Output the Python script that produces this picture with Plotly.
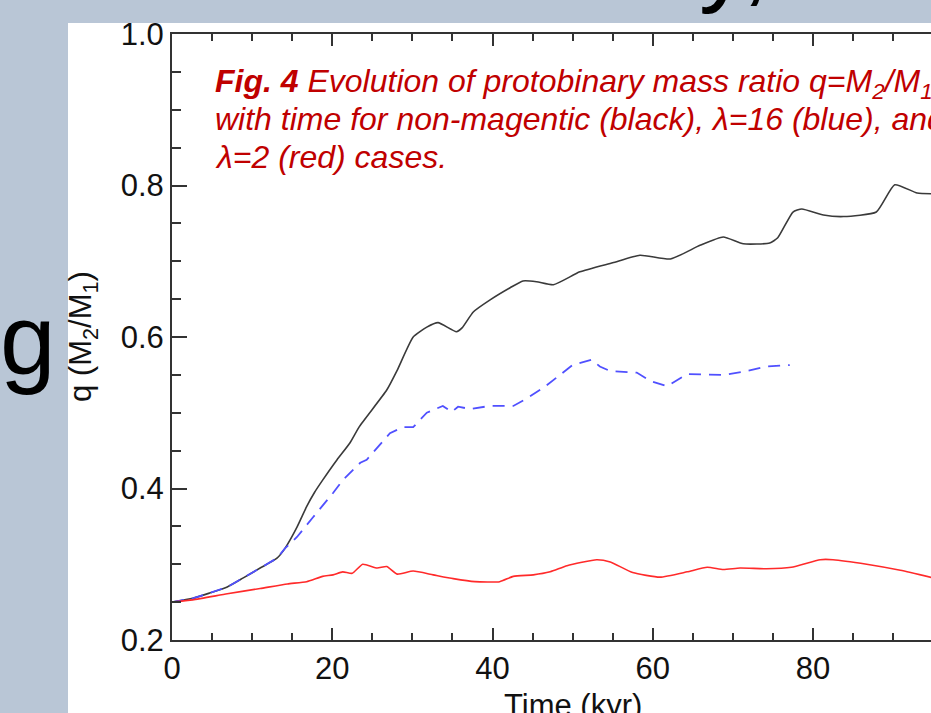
import plotly.graph_objects as go

# Mass-ratio evolution q = M2/M1 against time (kyr)
t_black = [0, 2.6, 4.7, 6.9, 8.9, 11.0, 13.1, 14.1, 15.6, 16.8, 17.8, 18.8, 20.6, 22.2,
           23.4, 26.8, 28.1, 30.1, 31.8, 33.2, 35.5, 36.2, 37.6, 39.7, 42.2, 43.8, 45.5,
           47.6, 50.9, 55.0, 58.4, 62.2, 65.9, 68.8, 71.3, 74.6, 75.6, 77.5, 78.6, 81.3,
           83.8, 87.9, 90.2, 93.0, 95.0]
q_black = [0.250, 0.255, 0.262, 0.270, 0.282, 0.295, 0.308, 0.321, 0.349, 0.376, 0.395,
           0.411, 0.438, 0.460, 0.482, 0.530, 0.556, 0.600, 0.613, 0.619, 0.607, 0.612,
           0.633, 0.649, 0.665, 0.674, 0.673, 0.669, 0.686, 0.698, 0.708, 0.703, 0.721,
           0.732, 0.723, 0.724, 0.731, 0.765, 0.769, 0.761, 0.759, 0.765, 0.801, 0.790,
           0.789]

t_blue = [0, 2.6, 4.7, 6.9, 8.9, 11.0, 13.1, 14.1, 15.6, 17.6, 20.1, 21.3, 23.5, 24.3,
          27.2, 28.8, 30.1, 31.8, 33.8, 34.9, 35.7, 37.2, 39.7, 42.6, 44.3, 46.5, 50.0,
          52.4, 53.4, 54.7, 58.0, 59.7, 61.8, 64.3, 68.8, 71.3, 74.2, 77.1]
q_blue = [0.250, 0.255, 0.262, 0.270, 0.282, 0.295, 0.308, 0.321, 0.336, 0.362, 0.394,
          0.411, 0.434, 0.438, 0.473, 0.481, 0.481, 0.500, 0.509, 0.501, 0.508, 0.505,
          0.509, 0.509, 0.519, 0.534, 0.563, 0.570, 0.561, 0.555, 0.553, 0.542, 0.535,
          0.551, 0.550, 0.554, 0.561, 0.563]

t_red = [0, 2.6, 6.9, 11.0, 14.4, 16.8, 18.8, 20.1, 21.3, 22.5, 23.8, 25.6, 26.8, 28.1,
         30.1, 32.6, 35.1, 37.8, 40.9, 42.6, 45.1, 47.2, 49.3, 53.0, 54.7, 57.5, 60.9,
         64.3, 66.8, 68.8, 70.9, 74.2, 77.3, 80.9, 82.5, 86.7, 90.9, 95.0]
q_red = [0.250, 0.253, 0.261, 0.268, 0.274, 0.277, 0.284, 0.286, 0.290, 0.288, 0.300,
         0.295, 0.297, 0.287, 0.291, 0.286, 0.281, 0.277, 0.277, 0.284, 0.286, 0.290,
         0.298, 0.306, 0.303, 0.289, 0.283, 0.290, 0.296, 0.293, 0.295, 0.294, 0.296,
         0.306, 0.306, 0.300, 0.292, 0.282]

x_ticks = [0, 20, 40, 60, 80, 100]
y_ticks = [0.2, 0.4, 0.6, 0.8, 1.0]

caption_lines = [
    "<b>Fig. 4</b> Evolution of protobinary mass ratio q=M<sub>2</sub>/M<sub>1</sub>",
    "with time for non-magentic (black), λ=16 (blue), and",
    "λ=2 (red) cases.",
]

W, H = 931, 713
L, R, T, B = 172, 0, 34, 73
PW, PH = W - L - R, H - T - B
X_SCALE = 8.0125  # px per kyr


def px(xp):
    return (xp - L) / PW


def py(yp):
    return (H - B - yp) / PH


FONT = "Liberation Sans, Arial, sans-serif"
AXIS = "#333333"
SLIDE = "#b9c6d6"
CAPTION = "#c00000"

fig = go.Figure()
fig.add_trace(go.Scatter(x=t_black, y=q_black, mode="lines",
                         line=dict(color="#3a3a3a", width=1.6, shape="spline", smoothing=0.5)))
fig.add_trace(go.Scatter(x=t_blue, y=q_blue, mode="lines",
                         line=dict(color="#5050ff", width=1.8, dash="12px,8px")))
fig.add_trace(go.Scatter(x=t_red, y=q_red, mode="lines",
                         line=dict(color="#ff2a2a", width=1.6, shape="spline", smoothing=0.5)))

# white slide panel behind the chart
fig.add_shape(type="rect", xref="paper", yref="paper", layer="below",
              x0=px(68), x1=px(960), y0=py(740), y1=py(23),
              fillcolor="white", line=dict(width=0))

ann = []
for i, line in enumerate(caption_lines):
    ann.append(dict(
        text=f"<i>{line}</i>", xref="paper", yref="paper",
        x=px(213), y=py(61 + 38 * i), xanchor="left", yanchor="top",
        align="left", showarrow=False, font=dict(family=FONT, size=32, color=CAPTION)))
ann.append(dict(text="q (M<sub>2</sub>/M<sub>1</sub>)", xref="paper", yref="paper",
                x=px(83), y=py(337), xanchor="center", yanchor="middle", textangle=-90,
                showarrow=False, font=dict(family=FONT, size=31, color="#111111")))
ann.append(dict(text="Time (kyr)", xref="x", yref="paper", x=50, y=py(686),
                xanchor="center", yanchor="top", showarrow=False,
                font=dict(family=FONT, size=31, color="#111111")))
ann.append(dict(text="g", xref="paper", yref="paper", x=px(-2), y=py(281),
                xanchor="left", yanchor="top", showarrow=False,
                font=dict(family=FONT, size=100, color="black")))
ann.append(dict(text="y,", xref="paper", yref="paper", x=px(697), y=py(-100),
                xanchor="left", yanchor="top", showarrow=False,
                font=dict(family=FONT, size=100, color="black")))

fig.update_layout(
    width=W, height=H, margin=dict(l=L, r=R, t=T, b=B, pad=0),
    paper_bgcolor=SLIDE, plot_bgcolor="white", showlegend=False,
    annotations=ann,
    xaxis=dict(range=[0, PW / X_SCALE], tickvals=x_ticks, ticktext=[str(v) for v in x_ticks],
               ticks="inside", ticklen=12, tickwidth=1.5, tickcolor=AXIS,
               showline=True, linecolor=AXIS, linewidth=2, mirror="ticks",
               showgrid=False, zeroline=False,
               minor=dict(dtick=5, tick0=0, ticks="inside", ticklen=7, tickwidth=1.5,
                          tickcolor=AXIS, showgrid=False),
               tickfont=dict(family=FONT, size=31, color="#111111")),
    yaxis=dict(range=[0.2, 1.0], tickvals=y_ticks, ticktext=[f"{v:.1f}" for v in y_ticks],
               ticks="inside", ticklen=15, tickwidth=1.5, tickcolor=AXIS,
               showline=True, linecolor=AXIS, linewidth=2, mirror=False,
               showgrid=False, zeroline=False,
               minor=dict(dtick=0.05, tick0=0.2, ticks="inside", ticklen=9, tickwidth=1.5,
                          tickcolor=AXIS, showgrid=False),
               tickfont=dict(family=FONT, size=31, color="#111111")),
)

fig.write_html("out.html")
